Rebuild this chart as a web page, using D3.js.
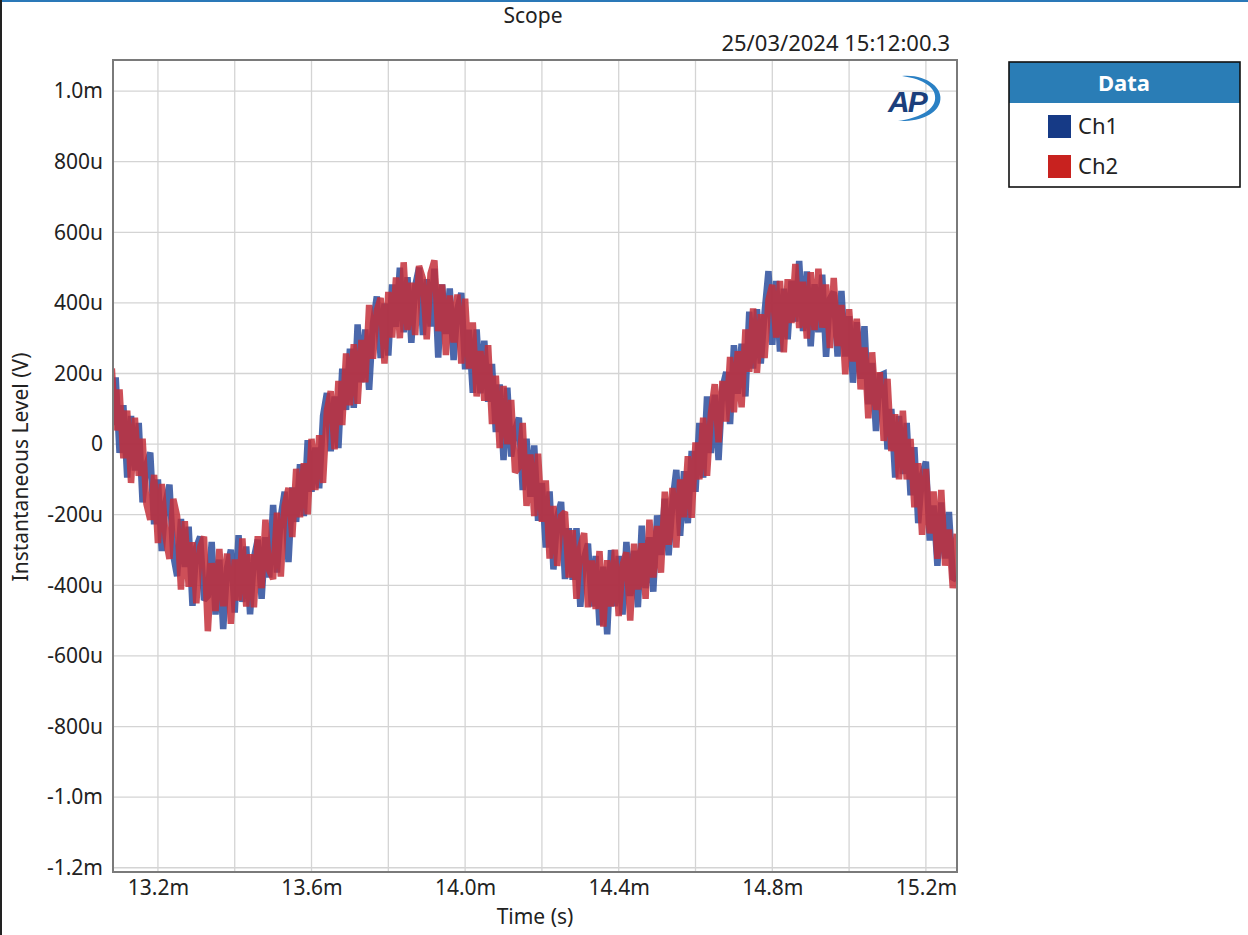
<!DOCTYPE html>
<html>
<head>
<meta charset="utf-8">
<script src="https://cdn.jsdelivr.net/npm/d3@7"></script>
<style>
  body { margin: 0; background: #fff; }
  svg { display: block; font-family: "Segoe UI", "Noto Sans", sans-serif; }
</style>
</head>
<body>
<svg id="chart" width="1248" height="935"></svg>
<script>
// scope capture, time in ms, level in uV
const sampleStart = 13.08
const sampleStep = 0.01

const ch1 = [54, 189, -25, 110, -95, 80, -75, 60, -165, -59,
  -24, -227, -100, -303, -164, -115, -315, -374, -212, -348,
  -234, -458, -291, -262, -442, -430, -277, -483, -327, -524,
  -350, -299, -477, -258, -447, -290, -482, -322, -271, -438,
  -264, -378, -172, -364, -205, -135, -334, -123, -220, -57,
  -204, 11, -135, -10, -125, 80, 145, -20, 135, -11,
  214, 97, 270, 103, 339, 175, 325, 154, 342, 418,
  244, 398, 251, 452, 332, 500, 317, 473, 287, 449,
  500, 309, 467, 333, 497, 245, 452, 312, 441, 238,
  384, 428, 212, 324, 145, 325, 144, 293, 120, 227,
  34, 169, -45, 160, -35, 40, 75, -130, 15, -149,
  -4, -217, -110, -293, -134, -355, -205, -164, -382, -238,
  -384, -238, -461, -322, -282, -460, -317, -513, -347, -539,
  -300, -459, -317, -483, -277, -430, -302, -462, -231, -408,
  -264, -418, -202, -314, -155, -315, -164, -73, -260, -77,
  -224, -19, -135, 60, -95, 135, -25, 140, -45, 159,
  204, 57, 280, 143, 284, 135, 375, 214, 382, 228,
  374, 490, 281, 462, 262, 440, 297, 463, 347, 519,
  320, 489, 277, 453, 317, 480, 247, 412, 431, 248,
  434, 248, 362, 174, 345, 185, 334, 113, 230, 37,
  194, 199, -15, 100, -95, 80, -85, 60, -145, -9,
  -224, -87, -50, -273, -174, -345, -165, -324, -192, -378,
  -384]

const ch2 = [214, 39, 155, -40, 95, -110, 75, -90, 15, -169,
  -214, -87, -280, -113, -264, -325, -155, -204, -412, -218,
  -404, -278, -451, -292, -262, -530, -337, -473, -297, -459,
  -310, -509, -327, -443, -267, -460, -312, -462, -261, -408,
  -214, -358, -382, -194, -375, -175, -124, -263, -70, -207,
  -54, -199, 15, -130, 25, -110, 95, 150, -15, 179,
  54, 257, 110, 283, 114, 295, 175, 394, 242, 378,
  414, 228, 431, 302, 472, 300, 515, 323, 457, 309,
  505, 469, 297, 483, 520, 320, 452, 252, 421, 288,
  424, 228, 412, 214, 345, 135, 264, 123, 280, 57,
  194, -11, 165, 0, 125, -80, -65, 60, -175, -29,
  -204, -27, -220, -103, -324, -175, -345, -204, -192, -378,
  -244, -438, -291, -252, -462, -330, -467, -303, -517, -329,
  -460, -299, -487, -343, -307, -500, -282, -412, -281, -438,
  -214, -378, -232, -364, -135, -285, -124, -293, -100, -207,
  -34, -209, 5, -100, 75, -90, 85, 170, 5, 179,
  64, 247, 90, 263, 104, 325, 205, 384, 202, 368,
  244, 408, 451, 302, 462, 260, 467, 343, 510, 329,
  460, 299, 487, 323, 497, 330, 452, 272, 471, 278,
  394, 198, 382, 234, 355, 155, 274, 73, 260, 97,
  204, 9, 185, -20, 85, -100, 95, -100, 15, -179,
  -54, -257, -70, -253, -134, -325, -130, -344, -242, -408,
  -254]

const seriesNames = ["Ch1", "Ch2"]
const seriesColors = ["#163a86", "#c8221f"]
const traceColors = ["#2c4e9c", "#c42d38"]
const xTicks = [13.2, 13.6, 14.0, 14.4, 14.8, 15.2]
const xGrid = [13.2, 13.4, 13.6, 13.8, 14.0, 14.2, 14.4, 14.6, 14.8, 15.0, 15.2]
const yTicks = [1000, 800, 600, 400, 200, 0, -200, -400, -600, -800, -1000, -1200]

const svg = d3.select("#chart")

const plotL = 113, plotR = 957, plotT = 60, plotB = 872
const txt = "#222"

const x = d3.scaleLinear().domain([13.083, 15.281]).range([plotL, plotR])
const y = d3.scaleLinear().domain([-1212, 1088]).range([plotB, plotT])

// window frame
svg.append("rect").attr("x", 0).attr("y", 0).attr("width", 1248).attr("height", 2).attr("fill", "#2a78b8")
svg.append("rect").attr("x", 0).attr("y", 0).attr("width", 2).attr("height", 935).attr("fill", "#222")

function fmtY(v) {
  if (v === 0) return "0"
  if (Math.abs(v) >= 1000) return (v / 1000).toFixed(1) + "m"
  return v + "u"
}

// grid
svg.append("g").selectAll("line").data(xGrid).enter().append("line")
  .attr("x1", d => x(d)).attr("x2", d => x(d))
  .attr("y1", plotT).attr("y2", plotB)
  .attr("stroke", "#d4d4d4").attr("stroke-width", 1.3)
svg.append("g").selectAll("line").data(yTicks).enter().append("line")
  .attr("x1", plotL).attr("x2", plotR)
  .attr("y1", d => y(d)).attr("y2", d => y(d))
  .attr("stroke", "#d4d4d4").attr("stroke-width", 1.3)

// axes labels
const yAxis = d3.axisLeft(y).tickValues(yTicks).tickFormat(fmtY).tickSize(0).tickPadding(10)
svg.append("g").attr("transform", `translate(${plotL},0)`).call(yAxis)
  .call(g => g.select(".domain").remove())
  .selectAll("text").attr("font-size", 21).attr("fill", txt)
  .attr("font-family", "'Segoe UI', 'Noto Sans', sans-serif")

const xAxis = d3.axisBottom(x).tickValues(xTicks).tickFormat(d => d.toFixed(1) + "m").tickSize(0).tickPadding(8)
svg.append("g").attr("transform", `translate(0,${plotB})`).call(xAxis)
  .call(g => g.select(".domain").remove())
  .selectAll("text").attr("font-size", 21).attr("fill", txt)
  .attr("font-family", "'Segoe UI', 'Noto Sans', sans-serif")

// traces
svg.append("clipPath").attr("id", "plotclip")
  .append("rect").attr("x", plotL).attr("y", plotT).attr("width", plotR - plotL).attr("height", plotB - plotT)

const line = d3.line()
  .x((d, i) => x(sampleStart + i * sampleStep))
  .y(d => y(d))

const traces = svg.append("g").attr("clip-path", "url(#plotclip)")
;[ch1, ch2].forEach((s, k) => {
  traces.append("path").datum(s)
    .attr("d", line)
    .attr("fill", "none")
    .attr("stroke", traceColors[k])
    .attr("stroke-width", 6.5)
    .attr("stroke-linejoin", "miter")
    .attr("stroke-miterlimit", 2.5)
    .attr("stroke-opacity", k === 0 ? 0.85 : 0.84)
})

// plot frame
svg.append("rect").attr("x", plotL).attr("y", plotT).attr("width", plotR - plotL).attr("height", plotB - plotT)
  .attr("fill", "none").attr("stroke", "#7a7a7a").attr("stroke-width", 2)

// titles
svg.append("text").attr("x", 533).attr("y", 23).attr("text-anchor", "middle")
  .attr("font-size", 21).attr("fill", txt).text("Scope")
svg.append("text").attr("x", 950).attr("y", 51).attr("text-anchor", "end")
  .attr("font-size", 22).attr("fill", txt).text("25/03/2024 15:12:00.3")
svg.append("text").attr("x", 535).attr("y", 924).attr("text-anchor", "middle")
  .attr("font-size", 21).attr("fill", txt).text("Time (s)")
svg.append("text").attr("transform", "translate(28,467) rotate(-90)").attr("text-anchor", "middle")
  .attr("font-size", 21).attr("fill", txt).text("Instantaneous Level (V)")

// AP logo
const logo = svg.append("g").attr("transform", "translate(886,74)")
logo.append("path")
  .attr("d", "M16,2 C40,0 58,14 54,28 C51,40 34,48 12,47 C32,44 47,37 49,26 C51,14 38,5 16,2 Z")
  .attr("fill", "#2a80c4")
logo.append("text").attr("x", 2).attr("y", 38)
  .attr("font-size", 30).attr("font-weight", "bold").attr("font-style", "italic")
  .attr("font-family", "'Liberation Sans', Arial, sans-serif")
  .attr("letter-spacing", -2)
  .attr("fill", "#1b3f7c").text("AP")

// legend
const lg = svg.append("g").attr("transform", "translate(1009,62)")
lg.append("rect").attr("width", 231).attr("height", 41).attr("fill", "#2a7db6")
lg.append("rect").attr("width", 231).attr("height", 125).attr("fill", "none")
  .attr("stroke", "#111").attr("stroke-width", 1.6)
lg.append("text").attr("x", 115).attr("y", 29).attr("text-anchor", "middle")
  .attr("font-size", 22).attr("font-weight", "bold").attr("fill", "#fff").text("Data")
seriesNames.forEach((n, i) => {
  lg.append("rect").attr("x", 39).attr("y", 53 + i * 40).attr("width", 23).attr("height", 23)
    .attr("fill", seriesColors[i])
  lg.append("text").attr("x", 69).attr("y", 72 + i * 40)
    .attr("font-size", 22).attr("fill", txt).text(n)
})
</script>
</body>
</html>
